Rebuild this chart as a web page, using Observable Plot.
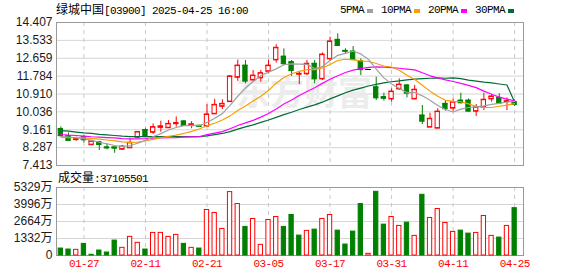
<!DOCTYPE html>
<html><head><meta charset="utf-8">
<script src="https://cdn.jsdelivr.net/npm/d3@7"></script>
<script src="https://cdn.jsdelivr.net/npm/@observablehq/plot@0.6"></script>
<style>
html,body{margin:0;padding:0;background:#fff;}
#wrap{position:relative;width:578px;height:276px;overflow:hidden;background:#fff;}
#wrap svg{position:absolute;left:0;}
.t{position:absolute;white-space:nowrap;line-height:12px;color:#000;}
.mono{font-family:"Liberation Mono","DejaVu Sans Mono",monospace;font-size:11px;letter-spacing:-0.6px;}
.cjk{font-family:"Noto Sans CJK SC",sans-serif;font-size:12px;}
g[font-family="Liberation Mono"]{letter-spacing:-0.6px;}
.leg{position:absolute;left:340px;top:4px;display:flex;align-items:center;height:12px;}
.leg .sq{display:inline-block;width:6px;height:4px;margin-left:3px;margin-right:8px;margin-top:1px;}
</style></head><body><div id="wrap"></div>
<script>
const stockName = "绿城中国";
const stockCode = "[03900]";
const stamp = "2025-04-25 16:00";
const maNames = ["5PMA", "10PMA", "20PMA", "30PMA"];
const maColors = ["#a0a0a0", "#f5a000", "#ff00ff", "#006e32"];

const dates = ["01-22","01-23","01-24","01-27","01-28","02-03","02-04","02-05","02-06","02-07",
"02-10","02-11","02-12","02-13","02-14","02-17","02-18","02-19","02-20","02-21",
"02-24","02-25","02-26","02-27","02-28","03-03","03-04","03-05","03-06","03-07",
"03-10","03-11","03-12","03-13","03-14","03-17","03-18","03-19","03-20","03-21",
"03-24","03-25","03-26","03-31","04-01","04-02","04-03","04-07","04-08","04-09",
"04-10","04-11","04-14","04-15","04-16","04-17","04-22","04-23","04-24","04-25"];

const open = [9.20,8.85,8.68,8.80,8.43,8.55,8.30,8.30,8.21,8.28,
8.80,9.15,9.04,9.28,9.26,9.46,9.57,9.40,9.36,9.34,
9.94,10.31,10.54,11.73,12.30,11.60,11.70,12.02,12.58,12.74,
12.47,11.88,11.90,12.39,11.65,12.63,13.56,13.02,12.99,12.51,
12.11,11.24,10.76,10.67,11.16,11.33,10.67,9.86,9.29,9.24,
10.43,10.22,10.59,10.59,10.07,10.26,10.67,10.72,10.54,10.51];
const high = [9.30,9.00,8.80,8.88,8.62,8.59,8.47,8.31,8.39,8.72,
9.08,9.21,9.45,9.58,9.61,9.79,9.61,9.56,9.38,10.39,
10.65,10.63,11.81,12.57,12.55,12.06,12.06,12.58,13.32,13.12,
12.55,11.98,12.55,12.55,12.92,13.69,13.85,13.12,13.23,12.63,
12.11,11.73,10.95,11.16,11.65,11.37,11.33,10.35,9.97,10.19,
10.59,10.67,10.95,10.67,10.40,10.95,10.89,10.92,10.72,10.63];
const low = [8.85,8.60,8.60,8.52,8.41,8.15,8.18,8.01,8.15,8.26,
8.72,8.80,8.93,9.04,9.24,9.29,9.33,9.21,9.29,9.32,
9.91,10.15,10.51,11.53,11.41,11.49,11.49,11.90,12.42,12.30,
11.77,11.37,11.81,11.41,11.57,12.51,13.25,12.88,12.55,11.81,
12.11,10.59,10.56,10.51,11.08,10.72,10.63,9.42,9.29,9.24,
10.07,10.07,10.43,10.02,9.81,10.10,10.51,10.43,10.10,10.30];
const close = [8.87,8.64,8.70,8.67,8.60,8.44,8.27,8.26,8.34,8.52,
9.05,8.83,9.29,9.33,9.45,9.49,9.37,9.43,9.32,9.91,
10.38,10.43,11.77,12.30,11.54,11.81,11.93,12.30,13.17,12.39,
12.06,11.90,12.39,11.65,12.84,13.48,13.28,13.00,12.60,12.10,
12.11,10.72,10.70,11.03,11.37,10.95,11.12,9.58,9.70,10.05,
10.19,10.51,10.48,10.07,10.26,10.63,10.79,10.46,10.56,10.40];
// volume in 万 shares
const volume = [546,468,445,913,55,390,234,1170,600,1459,
991,468,1771,1771,1459,1615,913,600,546,3565,
3331,2083,4969,4033,2239,2863,835,2785,3019,2239,
3175,1560,1927,2028,2863,3175,1950,858,1872,4033,
133,4992,2418,3019,2317,2574,1537,4758,2941,3643,
2551,1849,1950,1716,1771,3097,1537,1404,2317,3710.5501];

const ma5 = [8.83,8.80,8.77,8.72,8.64,8.55,8.47,8.39,8.34,8.39,
8.50,8.64,8.82,8.97,9.15,9.27,9.36,9.38,9.36,9.52,
9.72,9.95,10.35,10.8,11.2,11.52,11.8,11.98,12.14,12.34,
12.38,12.37,12.36,12.15,12.25,12.55,12.8,12.9,13.0,12.87,
12.6,12.13,11.7,11.4,11.18,10.98,10.98,10.82,10.6,10.35,
10.15,10.03,10.17,10.25,10.28,10.33,10.4,10.45,10.52,10.55];
const ma10 = [8.80,8.78,8.77,8.76,8.73,8.70,8.66,8.62,8.57,8.54,
8.56,8.61,8.69,8.78,8.84,8.90,8.98,9.08,9.20,9.36,
9.48,9.64,9.84,10.1,10.32,10.57,10.8,11.08,11.44,11.72,
11.9,12.02,12.1,12.1,12.19,12.35,12.55,12.61,12.58,12.53,
12.5,12.4,12.28,12.23,12.07,11.83,11.62,11.34,11.05,10.8,
10.6,10.55,10.53,10.43,10.3,10.26,10.25,10.31,10.37,10.44];
const ma20 = [8.93,8.90,8.88,8.85,8.82,8.80,8.78,8.76,8.73,8.72,
8.72,8.73,8.75,8.76,8.77,8.78,8.80,8.81,8.82,8.92,
9.0,9.07,9.21,9.37,9.5,9.62,9.78,9.96,10.18,10.42,
10.62,10.84,11.03,11.22,11.43,11.63,11.8,11.96,12.08,12.15,
12.21,12.24,12.22,12.2,12.17,12.13,12.09,11.95,11.8,11.7,
11.6,11.52,11.43,11.33,11.22,11.05,10.9,10.76,10.66,10.57];
const ma30 = [9.12,9.09,9.05,9.01,8.98,8.94,8.91,8.88,8.85,8.83,
8.83,8.83,8.83,8.83,8.83,8.83,8.83,8.83,8.83,8.86,
8.92,8.98,9.07,9.19,9.3,9.4,9.52,9.64,9.77,9.9,
10.02,10.15,10.27,10.38,10.51,10.67,10.82,10.97,11.1,11.2,
11.3,11.38,11.45,11.51,11.55,11.6,11.64,11.66,11.68,11.7,
11.68,11.7,11.66,11.59,11.54,11.49,11.45,11.4,11.35,10.51];

const priceTicks = [7.413, 8.287, 9.161, 10.036, 10.910, 11.784, 12.659, 13.533, 14.407];
const volTicks = [0, 1332, 2664, 3996, 5329];
const dateTicks = ["01-27","02-11","02-21","03-05","03-17","03-31","04-11","04-25"];

const RED = "#ff0000", GREEN = "#008000", FLAT = "#000000";
const rows = dates.map((d, i) => {
  const dir = close[i] > open[i] ? 1 : close[i] < open[i] ? -1 : 0;
  const prev = i > 0 ? close[i - 1] : open[i];
  const vdir = close[i] > prev ? 1 : -1;
  return {date: d, open: open[i], high: high[i], low: low[i], close: close[i], vol: volume[i],
    ma5: ma5[i], ma10: ma10[i], ma20: ma20[i], ma30: ma30[i],
    col: dir > 0 ? RED : dir < 0 ? GREEN : FLAT,
    bodyFill: dir > 0 ? "#ffffff" : dir < 0 ? GREEN : FLAT,
    vcol: vdir > 0 ? RED : GREEN,
    vfill: vdir > 0 ? "#ffffff" : GREEN};
});

const xScale = {type: "band", domain: dates, range: [56.5, 518], padding: 0, axis: null};
const gridStroke = "#d6d6d6", dashStroke = "#c8c8c8", frameStroke = "#9a9a9a";
const inset = 1.7;

const price = Plot.plot({
  width: 578, height: 170,
  marginTop: 22, marginBottom: 5, marginLeft: 56, marginRight: 55,
  x: xScale,
  y: {domain: [7.413, 14.407], axis: null},
  color: {type: "identity"},
  style: {background: "transparent", overflow: "visible", fontFamily: "Liberation Sans, Arial, sans-serif", fontSize: "12px"},
  marks: [
    Plot.ruleY(priceTicks, {y: d => d, stroke: gridStroke}),
    Plot.ruleX(dateTicks, {x: d => d, stroke: dashStroke, strokeDasharray: "4,4"}),
    Plot.text(["东方财富"], {frameAnchor: "middle", dx: 14, text: d => d, fontSize: 34, fontWeight: "bold", fill: "#ececec", fontFamily: "Noto Sans CJK SC"}),
    Plot.frame({stroke: frameStroke}),
    Plot.ruleX(rows, {x: "date", y1: "low", y2: "high", stroke: "col"}),
    Plot.barY(rows, {x: "date", y1: "open", y2: "close", fill: "bodyFill", stroke: "col", insetLeft: inset, insetRight: inset}),
    Plot.tickY(rows, {x: "date", y: "open", stroke: "col", insetLeft: inset - 0.5, insetRight: inset - 0.5}),
    Plot.tickY(rows, {x: "date", y: "close", stroke: "col", insetLeft: inset - 0.5, insetRight: inset - 0.5}),
    Plot.lineY(rows, {x: "date", y: "ma30", stroke: maColors[3], strokeWidth: 1.2}),
    Plot.lineY(rows, {x: "date", y: "ma20", stroke: maColors[2], strokeWidth: 1.2}),
    Plot.lineY(rows, {x: "date", y: "ma10", stroke: maColors[1], strokeWidth: 1.2}),
    Plot.lineY(rows, {x: "date", y: "ma5", stroke: maColors[0], strokeWidth: 1.2}),
    Plot.text(priceTicks, {y: d => d, text: d => d.toFixed(3), frameAnchor: "left", textAnchor: "end", dx: -4, fill: "#1a1a1a", fontSize: 12})
  ]
});
price.style.top = "0px";

const vol = Plot.plot({
  width: 578, height: 106,
  marginTop: 17, marginBottom: 21, marginLeft: 56, marginRight: 55,
  x: xScale,
  y: {domain: [0, 5329], axis: null},
  color: {type: "identity"},
  style: {background: "transparent", overflow: "visible", fontFamily: "Liberation Sans, Arial, sans-serif", fontSize: "12px"},
  marks: [
    Plot.ruleY(volTicks, {y: d => d, stroke: gridStroke}),
    Plot.ruleX(dateTicks, {x: d => d, stroke: dashStroke, strokeDasharray: "4,4"}),
    Plot.frame({stroke: frameStroke}),
    Plot.barY(rows, {x: "date", y: "vol", fill: "vfill", stroke: "vcol", insetLeft: inset, insetRight: inset}),
    Plot.text(volTicks, {y: d => d, text: d => d === 0 ? "0" : d + "万", frameAnchor: "left", textAnchor: "end", dx: -4, fill: "#1a1a1a", fontSize: 12, fontFamily: "Liberation Sans, Noto Sans CJK SC, sans-serif"}),
    Plot.text(dateTicks, {x: d => d, text: d => d, frameAnchor: "bottom", dy: 11, fill: RED, fontSize: 11, fontFamily: "Liberation Mono"})
  ]
});
vol.style.top = "170px";

const wrap = document.getElementById("wrap");
wrap.appendChild(price);
wrap.appendChild(vol);

// title
const title = document.createElement("div");
title.className = "t";
title.style.left = "56px"; title.style.top = "3px";
title.innerHTML = `<span class="cjk">${stockName}</span><span class="mono">${stockCode} ${stamp}</span>`;
wrap.appendChild(title);

// legend
const leg = document.createElement("div");
leg.className = "leg";
maNames.forEach((n, i) => {
  const s = document.createElement("span"); s.className = "mono"; s.textContent = n; leg.appendChild(s);
  const q = document.createElement("span"); q.className = "sq"; q.style.background = maColors[i]; leg.appendChild(q);
});
wrap.appendChild(leg);

// volume title
const vt = document.createElement("div");
vt.className = "t";
vt.style.left = "58px"; vt.style.top = "171px";
vt.innerHTML = `<span class="cjk">成交量</span><span class="mono">:${Math.round(volume[volume.length - 1] * 10000)}</span>`;
wrap.appendChild(vt);
</script></body></html>
